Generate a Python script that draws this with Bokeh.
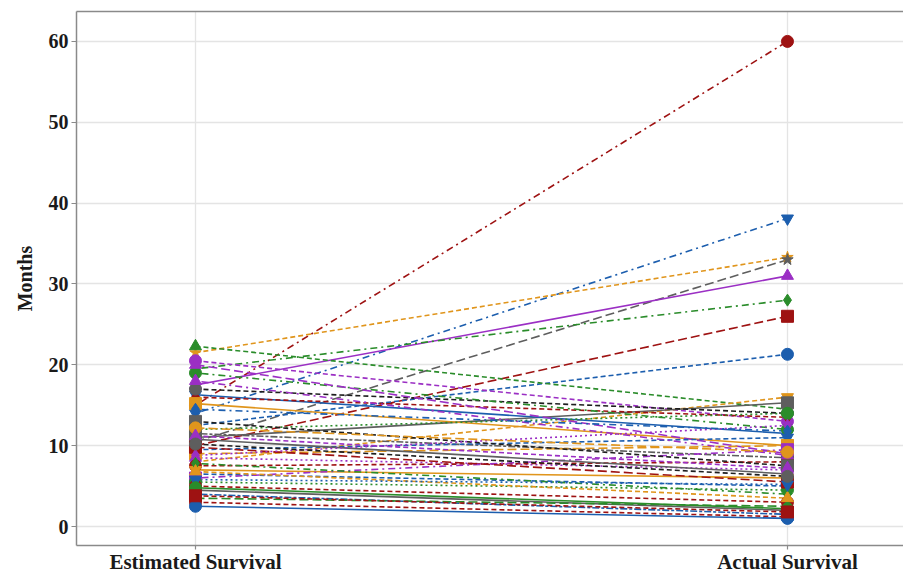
from bokeh.plotting import figure
from bokeh.models import FixedTicker, Range1d, LinearAxis, ColumnDataSource
from bokeh.embed import file_html
from bokeh.resources import INLINE

# ---- data ----
categories = ["Estimated Survival", "Actual Survival"]
estimated = [15.0, 14.0, 21.5, 10.5, 17.5, 19.5, 10.0, 12.5, 22.3, 20.5,
             8.0, 11.0, 16.3, 16.0, 17.0, 15.2, 19.0, 20.0, 12.0, 11.5,
             9.5, 9.0, 8.5, 7.5, 7.0, 6.5, 6.0, 5.5, 5.0, 4.5,
             4.0, 3.5, 3.0, 2.5, 18.0, 13.0, 10.8, 9.8, 8.8, 7.8,
             6.8, 5.8, 4.8, 3.8, 12.2, 11.2, 14.5, 10.2]
actual = [60.0, 38.1, 33.3, 33.0, 31.0, 28.0, 26.0, 21.3, 14.5, 13.0,
          16.0, 15.3, 11.5, 13.5, 14.0, 10.0, 12.0, 9.0, 14.0, 8.5,
          11.0, 10.0, 7.0, 8.0, 6.0, 5.0, 9.5, 4.5, 3.0, 2.0,
          1.5, 2.5, 1.2, 1.0, 8.8, 7.5, 6.5, 5.5, 12.5, 4.0,
          3.5, 5.2, 2.2, 1.8, 9.2, 7.2, 11.8, 6.2]
y_ticks = [0, 10, 20, 30, 40, 50, 60]

# ---- styles ----
palette = {"blue": "#1C5EAE", "red": "#9E1212", "green": "#2A8C2A",
           "purple": "#9B2FC4", "orange": "#E0951C", "gray": "#5E5E5E",
           "black": "#1E1E1E"}
series_color = ["red", "blue", "orange", "gray", "purple", "green", "red", "blue", "green", "purple",
                "orange", "gray", "blue", "red", "black", "orange", "green", "purple", "green", "gray",
                "blue", "orange", "purple", "red", "orange", "blue", "purple", "green", "red", "gray",
                "blue", "green", "red", "blue", "purple", "black", "gray", "red", "purple", "green",
                "orange", "blue", "green", "red", "orange", "purple", "blue", "black"]
marker_color = {"black": "gray"}
series_marker = ["circle", "inverted_triangle", "star", "star", "triangle", "diamond", "square", "circle", "triangle", "circle",
                 "inverted_triangle", "square", "inverted_triangle", "diamond", "circle", "square", "circle", "triangle", "circle", "square",
                 "inverted_triangle", "square", "triangle", "circle", "inverted_triangle", "diamond", "square", "circle", "circle", "diamond",
                 "square", "diamond", "circle", "circle", "triangle", "square", "triangle", "square", "diamond", "diamond",
                 "triangle", "inverted_triangle", "circle", "square", "circle", "triangle", "diamond", "circle"]
dash_cycle = {"solid": "solid", "dashed": "5 3", "dotted": "2 3", "dotdash": "2 4 7 4",
              "longdash": "9 4", "twodash": "3 2 7 2"}
series_dash = ["dotdash", "dotdash", "dashed", "longdash", "solid", "dotdash", "longdash", "dashed", "dashed", "dashed",
               "dashed", "solid", "solid", "dashed", "dashed", "solid", "dotdash", "longdash", "dotted", "twodash",
               "dashed", "longdash", "dotted", "dashed", "solid", "dashed", "dotdash", "dotted", "dashed", "solid",
               "twodash", "longdash", "dashed", "solid", "dotdash", "dashed", "solid", "longdash", "dotted", "dotdash",
               "dashed", "dotted", "solid", "dashed", "longdash", "dashed", "dotdash", "dashed"]

serif = "Liberation Serif"
frame_col = "#8a8a8a"

p = figure(width=903, height=576, x_range=Range1d(0.799, 2.196), y_range=Range1d(-2.35, 63.7),
           output_backend="svg", toolbar_location=None,
           min_border_left=76, min_border_right=0, min_border_top=11, min_border_bottom=31)
p.outline_line_color = None
p.background_fill_color = "white"

xs = [1, 2]
for i in range(len(estimated)):
    p.line(xs, [estimated[i], actual[i]], line_color=palette[series_color[i]],
           line_width=1.6, line_dash=dash_cycle[series_dash[i]])

mcols = [palette[marker_color.get(c, c)] for c in series_color]
for j, vals in enumerate([estimated, actual]):
    src = ColumnDataSource(dict(x=[xs[j]] * len(vals), y=vals, c=mcols, m=series_marker))
    p.scatter("x", "y", source=src, marker="m", size=12, fill_color="c", line_color="c")

# axes
p.xaxis.ticker = FixedTicker(ticks=xs)
p.xaxis.major_label_overrides = {1: categories[0], 2: categories[1]}
p.yaxis.ticker = FixedTicker(ticks=y_ticks)
p.yaxis.axis_label = "Months"
for ax in (p.xaxis[0], p.yaxis[0]):
    ax.axis_line_color = frame_col
    ax.axis_line_width = 1.5
    ax.major_tick_line_color = frame_col
    ax.major_tick_line_width = 1.2
    ax.major_tick_out = 5
    ax.major_tick_in = 0
    ax.minor_tick_line_color = None
    ax.major_label_text_font = serif
    ax.major_label_text_font_style = "bold"
    ax.major_label_text_color = "#1a1a1a"
    ax.major_label_standoff = 3
p.xaxis.major_label_text_font_size = "21px"
p.xaxis.major_label_standoff = 0
p.xaxis.major_tick_out = 4
p.yaxis.major_label_text_font_size = "20px"
p.yaxis.axis_label_text_font = serif
p.yaxis.axis_label_text_font_style = "bold"
p.yaxis.axis_label_text_font_size = "20px"
p.yaxis.axis_label_text_color = "#1a1a1a"
p.yaxis.axis_label_standoff = 10

top = LinearAxis(ticker=FixedTicker(ticks=[]), major_label_text_font_size="0px",
                 axis_line_color=frame_col, axis_line_width=1.5,
                 major_tick_line_color=None, minor_tick_line_color=None)
top.major_label_standoff = 0
p.add_layout(top, "above")

p.xgrid.grid_line_color = "#e4e4e4"
p.ygrid.grid_line_color = "#e4e4e4"
p.xgrid.grid_line_width = 1.3
p.ygrid.grid_line_width = 1.3

open("out.html", "w").write(file_html(p, INLINE))
